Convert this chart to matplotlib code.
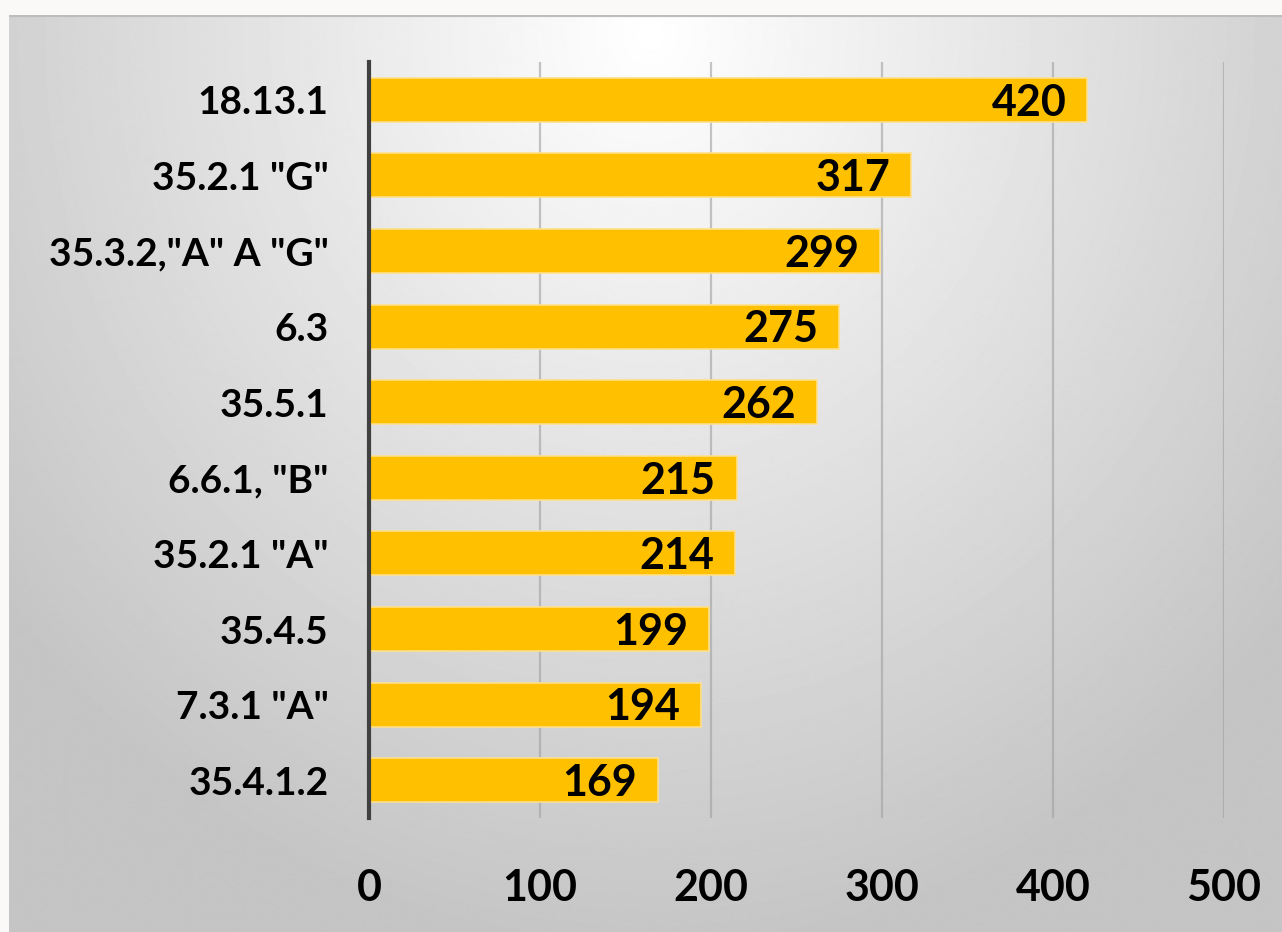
import matplotlib.pyplot as plt
from matplotlib import font_manager
import numpy as np

# data (top to bottom as shown)
categories = ['18.13.1', '35.2.1 "G"', '35.3.2,"A" A "G"', '6.3', '35.5.1',
              '6.6.1, "B"', '35.2.1 "A"', '35.4.5', '7.3.1 "A"', '35.4.1.2']
values = [420, 317, 299, 275, 262, 215, 214, 199, 194, 169]
xticks = [0, 100, 200, 300, 400, 500]

# Lato bold is the closest narrow-ish face we have here
plt.rcParams['font.family'] = ['Lato', 'DejaVu Sans']
plt.rcParams['font.weight'] = 'bold'
fsize = 31
lsize = 28

fig = plt.figure(figsize=(12.82, 9.32), dpi=100)
fig.patch.set_facecolor('#faf9f7')

# radial gradient background
bg = fig.add_axes([0.007, 0, 0.993, 0.984])
yy, xx = np.mgrid[0:916, 0:1273]
d = np.sqrt(((xx - 640) / 900.0) ** 2 + ((yy - 20) / 1000.0) ** 2)
shade = np.clip(1.0 - 0.25 * d, 0.77, 1.0)
bg.imshow(shade, cmap='gray', vmin=0, vmax=1, aspect='auto', interpolation='bilinear')
bg.axhline(0, color='#bdbdbd', lw=3)
bg.set_axis_off()

ax = fig.add_axes([0.2878, 0.1223, 0.6670, 0.8112])
ax.patch.set_alpha(0)

y = np.arange(len(categories))
ax.barh(y, values, height=0.58, color='#ffc000', edgecolor='#ffe089', linewidth=1.2, zorder=3)

for yi, v in zip(y, values):
    ax.annotate(str(v), (v, yi), xytext=(-15, -2), textcoords='offset points',
                ha='right', va='center', fontsize=fsize, fontweight='bold', color='black', zorder=4)

ax.set_xlim(0, 500)
ax.set_ylim(len(categories) - 0.5, -0.5)
ax.set_xticks(xticks)
ax.set_xticklabels([str(t) for t in xticks], fontsize=fsize, fontweight='bold')
ax.set_yticks(y)
ax.set_yticklabels(categories)
for lab in ax.get_yticklabels():
    lab.set_fontsize(lsize)
    lab.set_fontweight('bold')
ax.tick_params(axis='x', length=0, pad=36)
ax.tick_params(axis='y', length=0, pad=29)

ax.grid(axis='x', color='#a0a0a0', alpha=0.6, lw=1.6, zorder=1)
for s in ['top', 'right', 'bottom']:
    ax.spines[s].set_visible(False)
ax.spines['left'].set_color('#404040')
ax.spines['left'].set_linewidth(3)
ax.spines['left'].set_zorder(5)

fig.savefig('out.png', dpi=100)
